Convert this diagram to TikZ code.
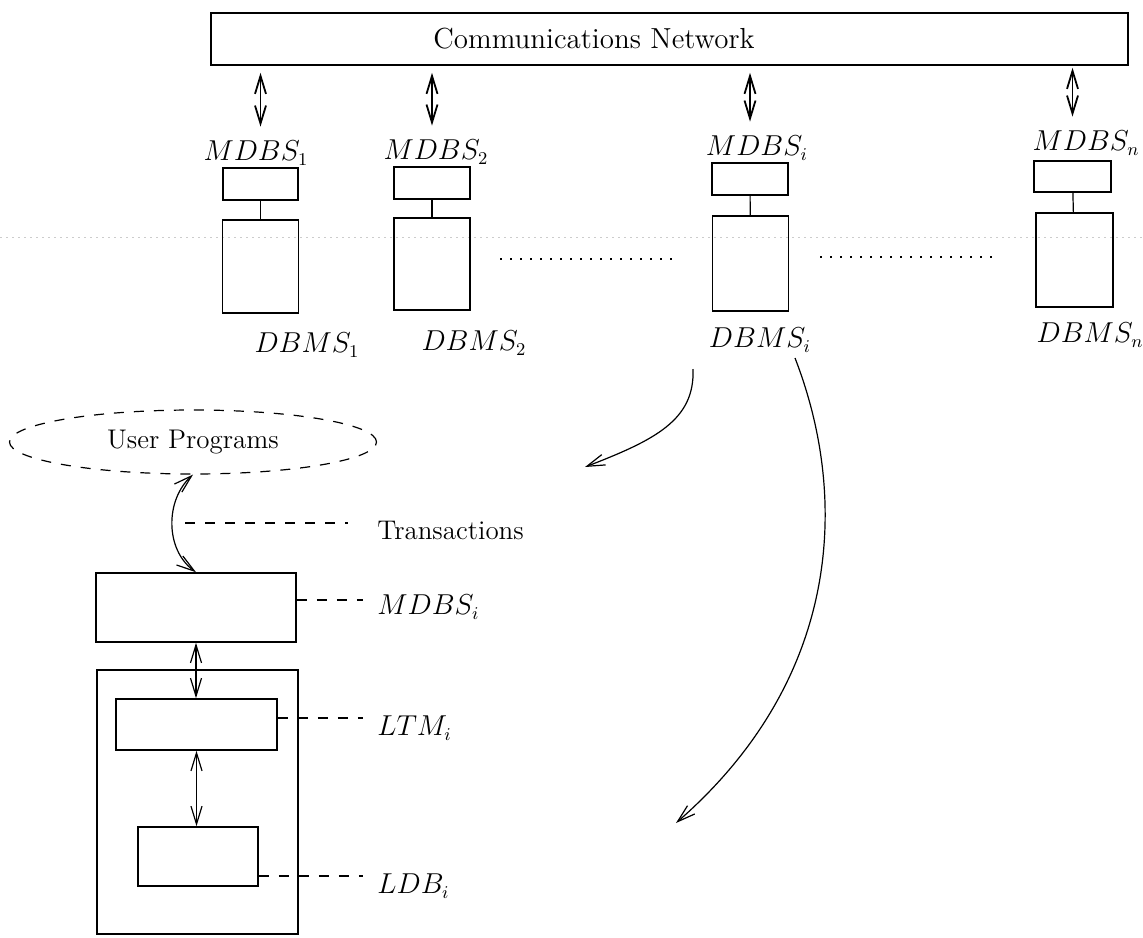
\documentclass[tikz,border=0pt]{standalone}
\usepackage{amsmath}
\usepackage{tikz}
\usetikzlibrary{arrows.meta,shapes.geometric}

\begin{document}
\begin{tikzpicture}
  [x=0.5pt,y=-0.5pt,
   every node/.style={inner sep=0pt,font=\fontsize{13.5}{16}\selectfont},
   box/.style={draw,rectangle,line width=0.8pt},
   barb/.tip={Straight Barb[length=9pt,width=5.5pt]},
   dbl/.style={barb-barb,line width=0.6pt},
   cv/.style={-barb,line width=0.6pt},
   lead/.style={dash pattern=on 5pt off 5pt,line width=0.6pt},
   ellip/.style={dash pattern=on 1pt off 4pt,line width=0.8pt}] % coordinates are read in pixels of the page, y runs down
  \useasboundingbox (0,0) rectangle (1143,937);

  \draw[gray!40,line width=0.3pt,dash pattern=on 1pt off 2pt] (0,237) -- (1143,237);

  \node[box,minimum width=458.5pt,minimum height=26pt] (net) at (669.5,39) {};
  \node[font=\fontsize{14.5}{17}\selectfont] (nett) at (594,39) {Communications Network};

  % the sites, small box on top of the large one
  \node[box,minimum width=37.5pt,minimum height=16pt] (sb1) at (260.5,184) {};
  \node[box,minimum width=38pt,minimum height=46.5pt] (bb1) at (260.5,266.5) {};
  \node[box,minimum width=38pt,minimum height=16pt] (sb2) at (432,183) {};
  \node[box,minimum width=38pt,minimum height=46pt] (bb2) at (432,264) {};
  \node[box,minimum width=38pt,minimum height=16pt] (sbi) at (750,179) {};
  \node[box,minimum width=38pt,minimum height=47.5pt] (bbi) at (750.5,263.5) {};
  \node[box,minimum width=38.5pt,minimum height=15.5pt] (sbn) at (1072.5,176.5) {};
  \node[box,minimum width=38.5pt,minimum height=47pt] (bbn) at (1074.5,260) {};

  \node (ml1) at (256,153) {$MDBS_1$};
  \node (ml2) at (436,152) {$MDBS_2$};
  \node (mli) at (757,148) {$MDBS_i$};
  \node (mln) at (1086,143) {$MDBS_n$};
  \node (dl1) at (307,345) {$DBMS_1$};
  \node (dl2) at (474,343) {$DBMS_2$};
  \node (dli) at (760,340) {$DBMS_i$};
  \node (dln) at (1090,335) {$DBMS_n$};

  \draw[dbl,line width=0.9pt,shorten <=3.5pt,shorten >=7pt] (net.south -| sb1) -- (ml1.north -| sb1);
  \draw[dbl,line width=0.9pt,shorten <=3.5pt,shorten >=7pt] (net.south -| sb2) -- (ml2.north -| sb2);
  \draw[dbl,line width=0.9pt,shorten <=3.5pt,shorten >=7pt] (net.south -| sbi) -- (mli.north -| sbi);
  \draw[dbl,line width=0.9pt,shorten <=1pt,shorten >=7pt] (net.south -| sbn) -- (mln.north -| sbn);

  \draw[line width=0.6pt] (sb1) -- (bb1);
  \draw[line width=0.6pt] (sb2) -- (bb2);
  \draw[line width=0.6pt] (sbi) -- (bbi);
  \draw[line width=0.6pt] (sbn) -- (bbn);

  \draw[ellip] (500,259) -- (675,259);
  \draw[ellip] (820,257) -- (997,257);

  % zoom into site i
  \coordinate (c1) at (693,369);
  \coordinate (c1e) at (585,467);
  \draw[cv] (c1) .. controls (695,420) and (655,440) .. (c1e);
  \coordinate (c2) at (795,358);
  \coordinate (c2e) at (676,823);
  \draw[cv] (c2) .. controls (850,500) and (840,680) .. (c2e);

  \node[draw,ellipse,lead,minimum width=183.5pt,minimum height=32pt] (user) at (193,442) {User Programs};
  \node[box,minimum width=100pt,minimum height=34.5pt] (mbox) at (196,607.5) {};
  \node[box,minimum width=100.5pt,minimum height=132pt] (site) at (197.5,802) {};
  \node[box,minimum width=80.5pt,minimum height=25.5pt] (ltm) at (196.5,724.5) {};
  \node[box,minimum width=60pt,minimum height=29.5pt] (ldb) at (198,856.5) {};

  \draw[dbl] (user.south) .. controls (165,500) and (165,550) .. (mbox.north);
  \draw[dbl] (mbox.south) -- (mbox.south |- ltm.north);
  \draw[dbl] (ltm.south) -- (ltm.south |- ldb.north);

  \node[anchor=west] (ltr) at (377,530) {Transactions};
  \node[anchor=west] (lmd) at (377,607) {$MDBS_i$};
  \node[anchor=west] (llt) at (377,728) {$LTM_i$};
  \node[anchor=west] (lld) at (377,886) {$LDB_i$};

  \coordinate (trs) at (185,523);
  \draw[lead,shorten >=14.5pt] (trs) -- (trs -| ltr.west);
  \draw[lead,shorten >=7pt] ([yshift=3.75pt]mbox.east) -- ([yshift=3.75pt]mbox.east -| lmd.west);
  \draw[lead,shorten >=7pt] ([yshift=3.25pt]ltm.east) -- ([yshift=3.25pt]ltm.east -| llt.west);
  \draw[lead,shorten >=7pt] ([yshift=-9.75pt]ldb.east) -- ([yshift=-9.75pt]ldb.east -| lld.west);

\end{tikzpicture}
\end{document}
